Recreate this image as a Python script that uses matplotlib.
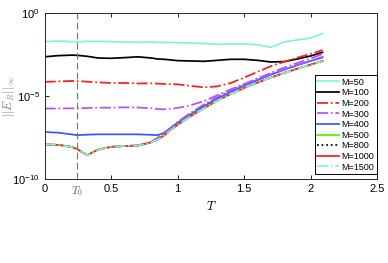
import numpy as np
import matplotlib
matplotlib.use("Agg")
import matplotlib.pyplot as plt

plt.rcParams['font.family'] = ['Liberation Sans', 'DejaVu Sans']
plt.rcParams['mathtext.fontset'] = 'cm'

# time grid and log10 of the error norm for each M
T = [0, 0.1, 0.2, 0.245, 0.32, 0.4, 0.5, 0.6, 0.7, 0.8, 0.85, 0.9,
     1.0, 1.1, 1.2, 1.3, 1.4, 1.5, 1.6, 1.7, 1.8, 1.9, 2.0, 2.09]
T0 = 0.245

log_m50 = [-1.74, -1.70, -1.74, -1.75, -1.72, -1.72, -1.74, -1.76, -1.78, -1.76, -1.78, -1.78,
           -1.80, -1.82, -1.86, -1.90, -1.88, -1.88, -1.92, -2.08, -1.76, -1.64, -1.52, -1.24]
log_m100 = [-2.65, -2.58, -2.55, -2.56, -2.62, -2.72, -2.74, -2.70, -2.65, -2.72, -2.78, -2.80,
            -2.88, -2.90, -2.92, -2.86, -2.80, -2.80, -2.86, -2.96, -2.94, -2.78, -2.60, -2.38]
log_m200 = [-4.15, -4.13, -4.10, -4.11, -4.14, -4.18, -4.22, -4.22, -4.25, -4.24, -4.26, -4.28,
            -4.30, -4.40, -4.48, -4.42, -4.22, -3.90, -3.55, -3.22, -2.95, -2.70, -2.48, -2.25]
log_m300 = [-5.75, -5.75, -5.74, -5.74, -5.72, -5.70, -5.70, -5.68, -5.69, -5.74, -5.78, -5.80,
            -5.72, -5.55, -5.30, -4.95, -4.60, -4.28, -3.95, -3.62, -3.30, -3.02, -2.75, -2.48]
log_m400 = [-7.16, -7.20, -7.30, -7.35, -7.32, -7.30, -7.30, -7.30, -7.30, -7.33, -7.35, -7.20,
            -6.60, -6.08, -5.60, -5.14, -4.74, -4.38, -4.05, -3.73, -3.43, -3.15, -2.90, -2.66]
log_low = [-7.91, -7.93, -8.05, -8.18, -8.55, -8.22, -8.05, -8.00, -7.97, -7.78, -7.60, -7.35,
           -6.72, -6.20, -5.72, -5.27, -4.87, -4.52, -4.20, -3.90, -3.62, -3.36, -3.12, -2.90]
log_extra = [-7.91, -7.93, -8.05, -8.18, -8.55, -8.22, -8.05, -8.00, -7.97, -7.75, -7.50, -7.22,
             -6.55, -6.00, -5.50, -5.05, -4.66, -4.32, -4.00, -3.70, -3.41, -3.14, -2.90, -2.70]

series = [
    ("M=50", log_m50, '#7ff5d6', '-'),
    ("M=100", log_m100, 'black', '-'),
    ("M=200", log_m200, '#ff1a1a', '-.'),
    ("M=300", log_m300, '#b84cff', '-.'),
    ("M=400", log_m400, '#3358ff', '-'),
    ("M=500", log_low, '#55ee00', '-'),
    ("_extra", log_extra, '#b84cff', '-.'),
    ("M=800", log_low, 'black', ':'),
    ("M=1000", log_low, '#ff1a1a', '-'),
    ("M=1500", log_low, '#7ff5d6', '-.'),
]

fig = plt.figure(figsize=(3.88, 2.63), dpi=100)
ax = fig.add_axes([0.115, 0.318, 0.857, 0.634])

for lab, vals, col, ls in series:
    ax.plot(T, 10.0 ** np.array(vals), color=col, ls=ls, lw=1.25, label=lab)

ax.axvline(T0, color='0.45', ls=(0, (6, 3)), lw=0.8)

ax.set_yscale('log')
ax.set_xlim(0, 2.5)
ax.set_ylim(1e-10, 1)
ax.set_yticks([1e-10, 1e-5, 1])
ax.minorticks_off()
ax.set_xticks([0, T0, 0.5, 1, 1.5, 2, 2.5])
ax.set_xticklabels(['0', '$T_0$', '0.5', '1', '1.5', '2', '2.5'])
ax.get_xticklabels()[1].set_color('0.4')
ax.tick_params(direction='in', top=True, right=True, labelsize=8, length=3, width=0.6)
for s in ax.spines.values():
    s.set_linewidth(0.7)
    s.set_color('0.15')

ax.set_xlabel('$T$', fontsize=9, labelpad=1)
ax.set_ylabel(r'$||E_R||_\infty$', fontsize=9, color='0.55')
ax.yaxis.set_label_coords(-0.082, 0.5)

leg = ax.legend(loc='lower right', bbox_to_anchor=(1.0, 0.03), borderaxespad=0,
                fontsize=6.5, fancybox=False, edgecolor='black', framealpha=1,
                handlelength=2.4, handletextpad=0.3, labelspacing=0.18,
                borderpad=0.3)
leg.get_frame().set_linewidth(0.7)

fig.savefig('out.png', dpi=100)
